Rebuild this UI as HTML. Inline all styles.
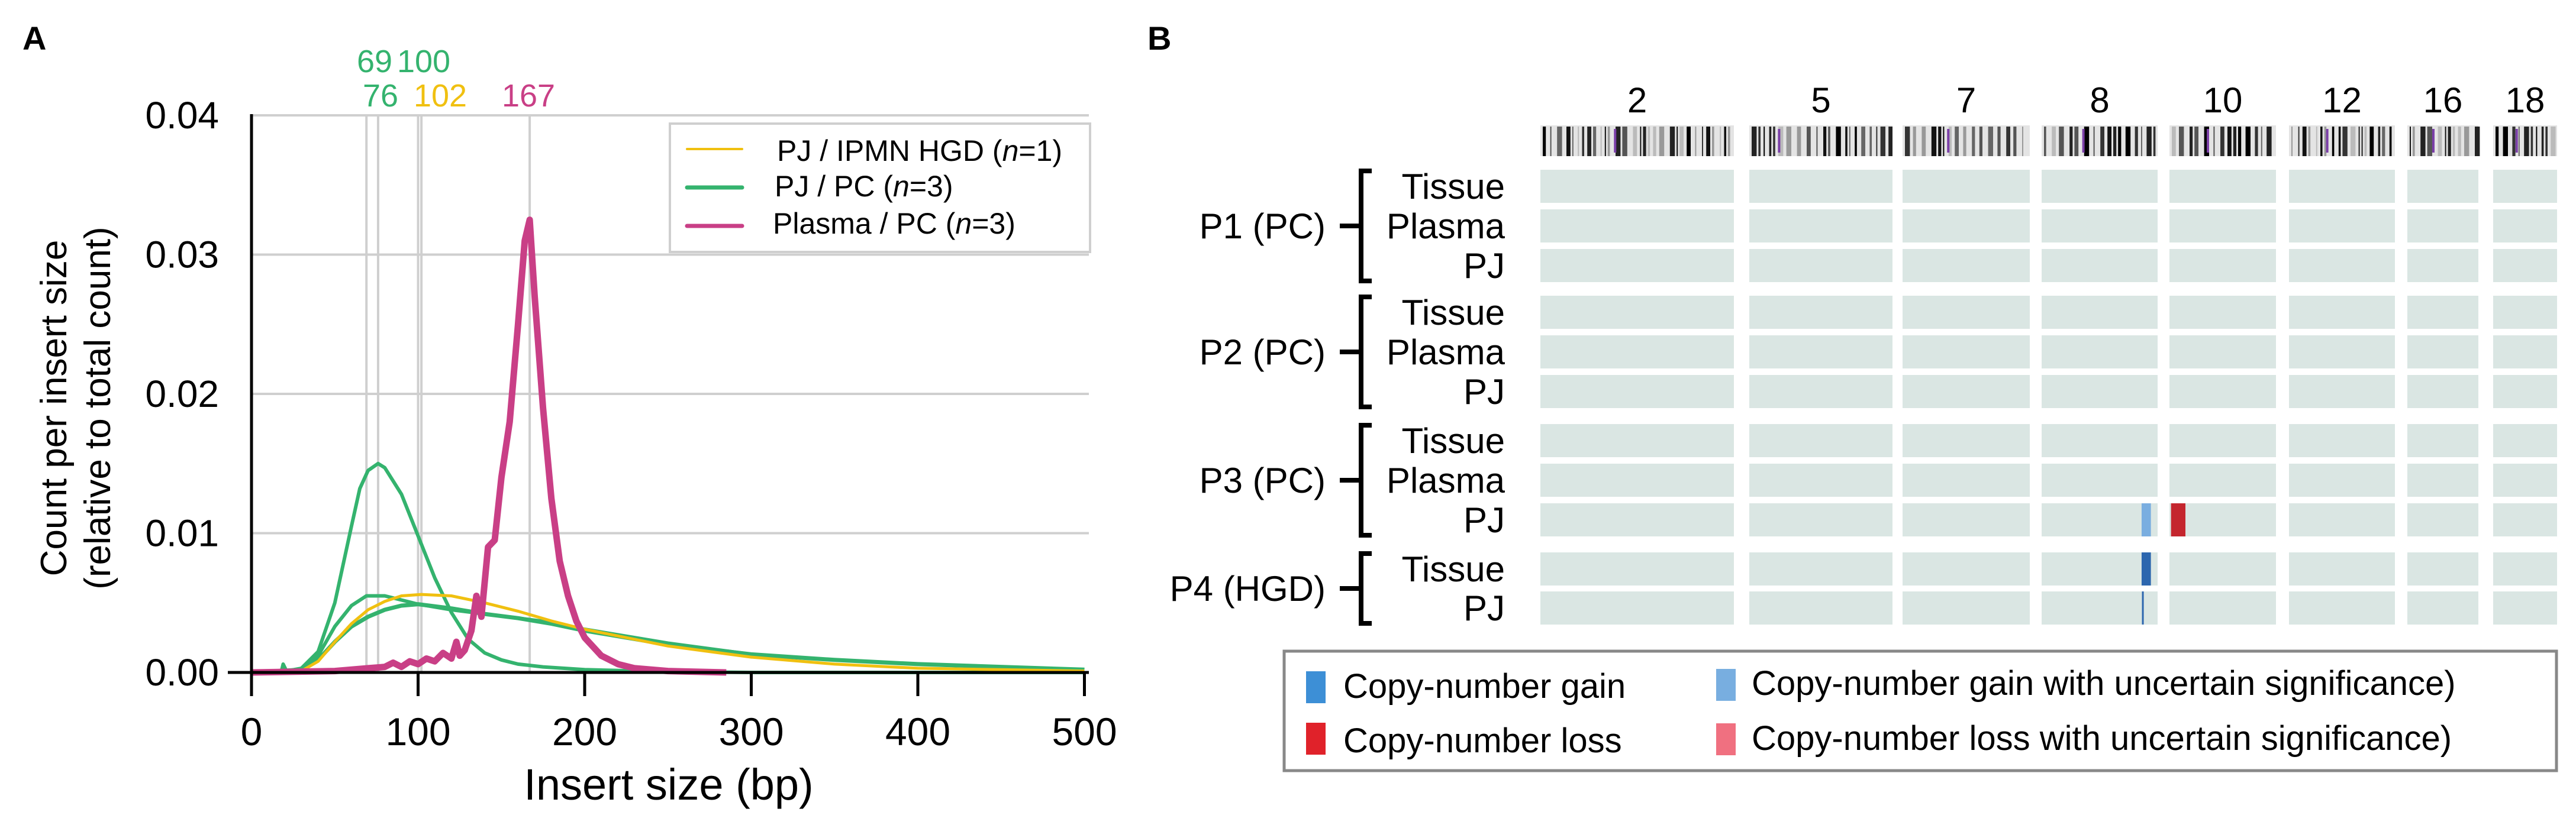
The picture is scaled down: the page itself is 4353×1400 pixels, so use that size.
<!DOCTYPE html>
<html><head><meta charset="utf-8"><style>
html,body{margin:0;padding:0;background:#fff;}
svg{display:block;font-family:"Liberation Sans",Arial,sans-serif;}
</style></head><body>
<svg id="fig" xmlns="http://www.w3.org/2000/svg" width="4353" height="1400" viewBox="0 0 4353 1400">
<g id="panelA"></g>
<g id="panelB"></g>
</svg>
<script>
// ---------- Panel A data ----------
const yTicks = [0, 0.01, 0.02, 0.03, 0.04];
const yTickLabels = ["0.00","0.01","0.02","0.03","0.04"];
const xTicks = [0,100,200,300,400,500];
const xTickLabels = ["0","100","200","300","400","500"];
const modeLines = [69,76,100,102,167];
const yellowX = [0,30,40,50,60,70,80,90,102,120,140,160,180,200,250,300,350,400,450,500];
const yellowY = [0,0.0001,0.0008,0.0022,0.0035,0.0045,0.0051,0.0055,0.0056,0.0055,0.0050,0.0044,0.0037,0.0031,0.0019,0.0011,0.0006,0.0003,0.0002,0.0001];
const green1X = [0,18,19,21,30,40,50,60,65,70,76,80,90,100,110,120,130,140,150,160,175,200,250,300,500];
const green1Y = [0,0.0001,0.0006,0.0001,0.0003,0.0015,0.005,0.0105,0.0132,0.0145,0.015,0.0147,0.0128,0.0098,0.0068,0.0043,0.0024,0.0014,0.0009,0.0006,0.0004,0.0002,0.00005,0,0];
const green2X = [0,30,40,50,60,69,80,90,100,120,140,160,180,200,250,300,350,400,450,500];
const green2Y = [0,0.0002,0.0012,0.0033,0.0048,0.0055,0.0055,0.0052,0.0049,0.0045,0.0042,0.0039,0.0036,0.0031,0.0021,0.0013,0.0009,0.0006,0.0004,0.0002];
const green3X = [0,30,40,50,60,70,80,90,100,120,140,160,180,200,250,300,350,400,450,500];
const green3Y = [0,0.0002,0.0009,0.0022,0.0033,0.0040,0.0045,0.0048,0.0049,0.0046,0.0042,0.0039,0.0035,0.0030,0.0020,0.0013,0.0009,0.0006,0.0004,0.0002];
const pinkX = [0,50,70,80,85,90,95,100,105,110,115,120,123,125,128,132,135,138,142,146,150,155,160,164,167,170,175,180,185,190,195,200,210,220,230,250,285];
const pinkY = [0,0.0001,0.0003,0.0004,0.0007,0.0004,0.0008,0.0006,0.0010,0.0008,0.0014,0.0010,0.0022,0.0012,0.0016,0.0030,0.0055,0.0040,0.0090,0.0095,0.0140,0.0180,0.0250,0.0310,0.0325,0.0270,0.0190,0.0125,0.0080,0.0055,0.0037,0.0025,0.0012,0.0006,0.0003,0.0001,0];
const modeLabelText = ["69","100","76","102","167"];

const NS="http://www.w3.org/2000/svg";
function mk(tag, attrs, parent, text){
  const e=document.createElementNS(NS,tag);
  for(const k in attrs) e.setAttribute(k,attrs[k]);
  if(text!==undefined) e.textContent=text;
  parent.appendChild(e); return e;
}
const A=document.getElementById('panelA');
const X0=425, XS=2.815, Y0=1137, YS=23550;
const xs=v=>X0+v*XS, ys=v=>Y0-v*YS;

let t=mk('text',{x:38,y:84,'font-size':56,'font-weight':'bold'},A,'A');



yTicks.forEach((v,i)=>{
  if(v>0){
    const g=mk('line',{x1:X0,x2:1840,y1:ys(v),y2:ys(v),stroke:'#cfcfcf','stroke-width':4},A);
    
    
  }
  const l=mk('text',{x:370,y:ys(v)+22,'font-size':64,'text-anchor':'end'},A,yTickLabels[i]);
  
  
});
modeLines.forEach(m=>{
  const l=mk('line',{x1:xs(m),x2:xs(m),y1:ys(0.04),y2:Y0,stroke:'#cfcfcf','stroke-width':4},A);
  
  
});
const modeLabelPos=[[633,122,'#34b36e'],[716,122,'#34b36e'],[643,180,'#34b36e'],[744,180,'#f0c010'],[893,180,'#c93f86']];
modeLabelText.forEach((s,i)=>{
  const p=modeLabelPos[i];
  const l=mk('text',{x:p[0],y:p[1],'font-size':54,'text-anchor':'middle',fill:p[2]},A,s);
  
  
});
function series(xa,ya,color,w,name){
  let d='';
  xa.forEach((x,i)=>{d+=(i?'L':'M')+xs(x).toFixed(1)+' '+ys(ya[i]).toFixed(1);});
  const p=mk('path',{d:d,fill:'none',stroke:color,'stroke-width':w,'stroke-linejoin':'round'},A);
  
  
}
series(green1X,green1Y,'#34b36e',6,'series-pj-pc-1');
series(green2X,green2Y,'#34b36e',6,'series-pj-pc-2');
series(green3X,green3Y,'#34b36e',7,'series-pj-pc-3');
series(yellowX,yellowY,'#f0c010',5,'series-pj-ipmn-hgd');
series(pinkX,pinkY,'#c93f86',11,'series-plasma-pc');
let ax=mk('line',{x1:X0,x2:X0,y1:ys(0.04)-2,y2:Y0+40,stroke:'#000','stroke-width':5},A);
 
ax=mk('line',{x1:X0-40,x2:1840,y1:Y0,y2:Y0,stroke:'#000','stroke-width':5},A);
 
xTicks.forEach((v,i)=>{
  const tk=mk('line',{x1:xs(v),x2:xs(v),y1:Y0,y2:Y0+40,stroke:'#000','stroke-width':5},A);
   
  const l=mk('text',{x:xs(v),y:1260,'font-size':66,'text-anchor':'middle'},A,xTickLabels[i]);
   
});
t=mk('text',{x:1130,y:1352,'font-size':74,'text-anchor':'middle'},A,'Insert size (bp)');
 
t=mk('text',{transform:'translate(112,690) rotate(-90)','font-size':62,'text-anchor':'middle'},A,'Count per insert size');
 
t=mk('text',{transform:'translate(186,690) rotate(-90)','font-size':62,'text-anchor':'middle'},A,'(relative to total count)');
 
const lg=mk('g',{},A);
 
mk('rect',{x:1132,y:209,width:710,height:217,fill:'#fff',stroke:'#cfcfcf','stroke-width':4},lg);
const legItems=[['#f0c010',4,252,272,1313,'PJ / IPMN HGD (','1)'],['#34b36e',7,317,332,1309,'PJ / PC (','3)'],['#c93f86',7,382,395,1306,'Plasma / PC  (','3)']];
legItems.forEach(it=>{
  const e=mk('g',{},lg);
   
  mk('line',{x1:1161,x2:1254,y1:it[2],y2:it[2],stroke:it[0],'stroke-width':it[1],'stroke-linecap':'round'},e);
  const tx=mk('text',{x:it[4],y:it[3],'font-size':50},e);
  tx.appendChild(document.createTextNode(it[5]));
  mk('tspan',{'font-style':'italic'},tx,'n');
  tx.appendChild(document.createTextNode('='+it[6]));
});

// ---------- Panel B ----------
const chromLabels=["2","5","7","8","10","12","16","18"];
const chromX0=[2603,2956,3215,3450,3666,3868,4068,4213];
const chromX1=[2930,3198,3430,3646,3846,4047,4188,4321];
const sampleLabels=["Tissue","Plasma","PJ","Tissue","Plasma","PJ","Tissue","Plasma","PJ","Tissue","PJ"];
const rowTops=[287,354,421,500,567,634,717,784,851,934,1000];
const patientLabels=["P1 (PC)","P2 (PC)","P3 (PC)","P4 (HGD)"];
const patientRows=[[0,2],[3,5],[6,8],[9,10]];
const eventRow=[8,8,9,10];
const eventChrom=[3,4,3,3];
const eventStart=[0.862,0.015,0.862,0.865];
const eventEnd=[0.942,0.15,0.942,0.88];
const eventType=["gain-uncertain","loss","gain","gain"];
const typeColors={"gain":"#2c66ae","gain-uncertain":"#7aaee0","loss":"#c4262e"};

const B=document.getElementById('panelB');
t=mk('text',{x:1939,y:84,'font-size':56,'font-weight':'bold'},B,'B');
 
const RH=56;
chromLabels.forEach((c,i)=>{
  const cx=(chromX0[i]+chromX1[i])/2;
  const l=mk('text',{x:cx,y:190,'font-size':60,'text-anchor':'middle'},B,c);
   
  const ig=mk('g',{},B);
   
  mk('rect',{x:chromX0[i],y:212,width:chromX1[i]-chromX0[i],height:52,fill:'#e4e4e4'},ig);
  const w=chromX1[i]-chromX0[i];
  let p=chromX0[i]+4, k=i*7+3;
  const shades=['#111','#333','#666','#999','#222','#bbb','#000','#555'];
  while(p<chromX1[i]-6){
    k=(k*17+11)%97;
    const bw=2+(k%5)*1.6;
    mk('rect',{x:p,y:214,width:bw,height:50,fill:shades[k%8]},ig);
    p+=bw+3+(k%4)*2.2;
  }
  const cen=chromX0[i]+w*(i==0?0.38:(i==1?0.2:0.35));
  mk('rect',{x:cen,y:218,width:4,height:40,fill:'#7b3fa8'},ig);
  rowTops.forEach(y=>{
    const r=mk('rect',{x:chromX0[i],y:y,width:w,height:RH,fill:'#dae6e3'},B);
    
    
  });
});
eventRow.forEach((r,i)=>{
  const c=eventChrom[i], w=chromX1[c]-chromX0[c];
  const x=chromX0[c]+eventStart[i]*w;
  const e=mk('rect',{x:x,y:rowTops[r],width:Math.max(3,(eventEnd[i]-eventStart[i])*w),height:RH,fill:typeColors[eventType[i]]},B);
  
  
});
sampleLabels.forEach((s,i)=>{
  const l=mk('text',{x:2543,y:rowTops[i]+RH/2+21,'font-size':60,'text-anchor':'end'},B,s);
   
});
patientRows.forEach((pr,i)=>{
  const top=rowTops[pr[0]]+2, bot=rowTops[pr[1]]+RH-2, mid=(top+bot)/2;
  const br=mk('path',{d:`M2318 ${top} H2300 V${bot} H2318 M2264 ${mid} H2300`,fill:'none',stroke:'#000','stroke-width':8},B);
   
  const l=mk('text',{x:2240,y:mid+21,'font-size':60,'text-anchor':'end'},B,patientLabels[i]);
   
});
const lb=mk('g',{},B);
 
mk('rect',{x:2170,y:1101,width:2150,height:202,fill:'#fff',stroke:'#888','stroke-width':5},lb);
const legB=[[2207,1135,'#3d8fd6','Copy-number gain',2270,1180],[2207,1222,'#e0222a','Copy-number loss',2270,1272],[2900,1131,'#78aee0','Copy-number gain with uncertain significance)',2960,1175],[2900,1223,'#f07080','Copy-number loss with uncertain significance)',2960,1268]];
legB.forEach(it=>{
  const e=mk('g',{},lb);
   
  mk('rect',{x:it[0],y:it[1],width:33,height:54,fill:it[2]},e);
  mk('text',{x:it[4],y:it[5],'font-size':58},e,it[3]);
});
</script>
</body></html>
